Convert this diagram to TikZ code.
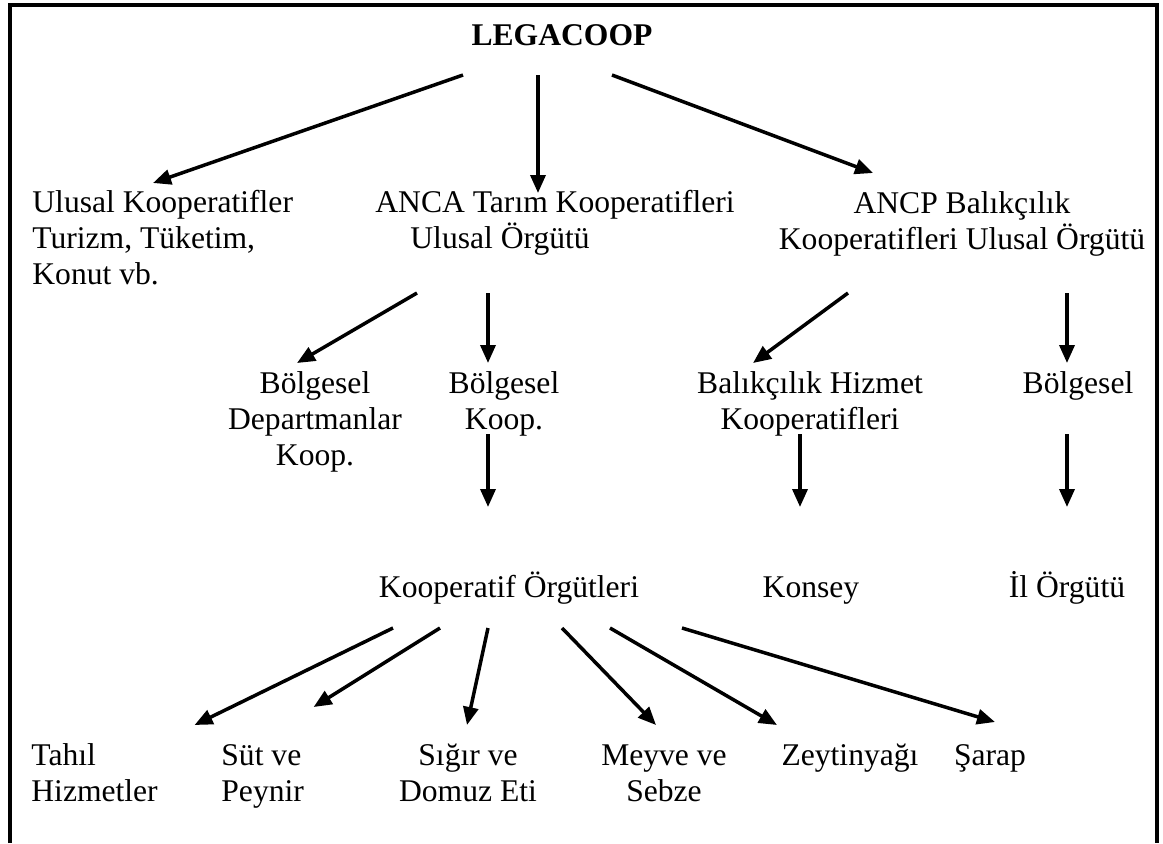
\documentclass[tikz,border=0pt]{standalone}
\usepackage{fontspec}
\setmainfont{Liberation Serif}
\usetikzlibrary{arrows.meta,calc}
\begin{document}
\begin{tikzpicture}[x=0.5pt,y=-0.5pt]
	\tikzset{t/.style={inner sep=0pt,anchor=base,align=center,font=\fontsize{15.8}{18}\selectfont},
	a/.style={line width=1.75pt,-{Triangle[length=9pt,width=7.5pt]}}}
	\useasboundingbox(0,0)rectangle(1163,843);
	\draw[line width=2pt](10,843)--(10,5)--(1157,5)--(1157,843);
	% first row
	\node[t,font=\fontsize{15.8}{18}\selectfont\bfseries](lega)at(562,45){LEGACOOP};
	\node[t,anchor=base west,align=left](ulusal)at(32,284){Ulusal Kooperatifler\\Turizm, Tüketim,\\Konut vb.};
	\node[t,anchor=base west,align=left](anca)at(375,248){ANCA Tarım Kooperatifleri\\\hspace*{17.5pt}Ulusal Örgütü};
	\node[t](ancp)at(962,249){ANCP Balıkçılık\\Kooperatifleri Ulusal Örgütü};
	% second row
	\node[t](bdep)at(315,465){Bölgesel\\Departmanlar\\Koop.};
	\node[t](bkoop)at(504,429){Bölgesel\\Koop.};
	\node[t](bhiz)at(810,429){Balıkçılık Hizmet\\Kooperatifleri};
	\node[t](bbol)at(1078,393){Bölgesel};
	% third row
	\node[t](korg)at(509,597){Kooperatif Örgütleri};
	\node[t](konsey)at(811,597){Konsey};
	\node[t](ilorg)at(1067,597){İl Örgütü};
	% last row
	\node[t,anchor=base west,align=left](tahil)at(31,801){Tahıl\\Hizmetler};
	\node[t,anchor=base west,align=left](sut)at(221,801){Süt ve\\Peynir};
	\node[t](sigir)at(468,801){Sığır ve\\Domuz Eti};
	\node[t](meyve)at(664,801){Meyve ve\\Sebze};
	\node[t](zeytin)at(850,765){Zeytinyağı};
	\node[t](sarap)at(990,765){Şarap};
	% arrows
	\draw[a]($(lega.base)+(-99,30)$)--($(ulusal.base west)+(121,-101)$);
	\draw[a]($(lega.base)+(-24,30)$)--($(anca.base west)+(163,-55)$);
	\draw[a]($(lega.base)+(50,30)$)--($(ancp.base)+(-89,-76)$);
	\draw[a]($(anca.base west)+(42,45)$)--($(bdep.base)+(-18,-102)$);
	\draw[a]($(anca.base west)+(113,45)$)--($(bkoop.base)+(-16,-66)$);
	\draw[a]($(ancp.base)+(-114,44)$)--($(bhiz.base)+(-57,-66)$);
	\draw[a]($(ancp.base)+(105,44)$)--($(bbol.base)+(-11,-30)$);
	\draw[a]($(bkoop.base)+(-16,5)$)--($(korg.base)+(-21,-90)$);
	\draw[a]($(bhiz.base)+(-10,5)$)--($(konsey.base)+(-11,-90)$);
	\draw[a]($(bbol.base)+(-11,41)$)--($(ilorg.base)+(0,-90)$);
	\foreach \dx/\n/\ex/\ey in {-116/tahil/100/-76,-69/sut/51/-94,-21/sigir/-1/-76,53/meyve/-8/-76,101/zeytin/-73/-40,173/sarap/5/-43}
	\draw[a]($(korg.base)+(\dx,31)$)--($(\n.base)+(\ex,\ey)$);
\end{tikzpicture}
\end{document}
